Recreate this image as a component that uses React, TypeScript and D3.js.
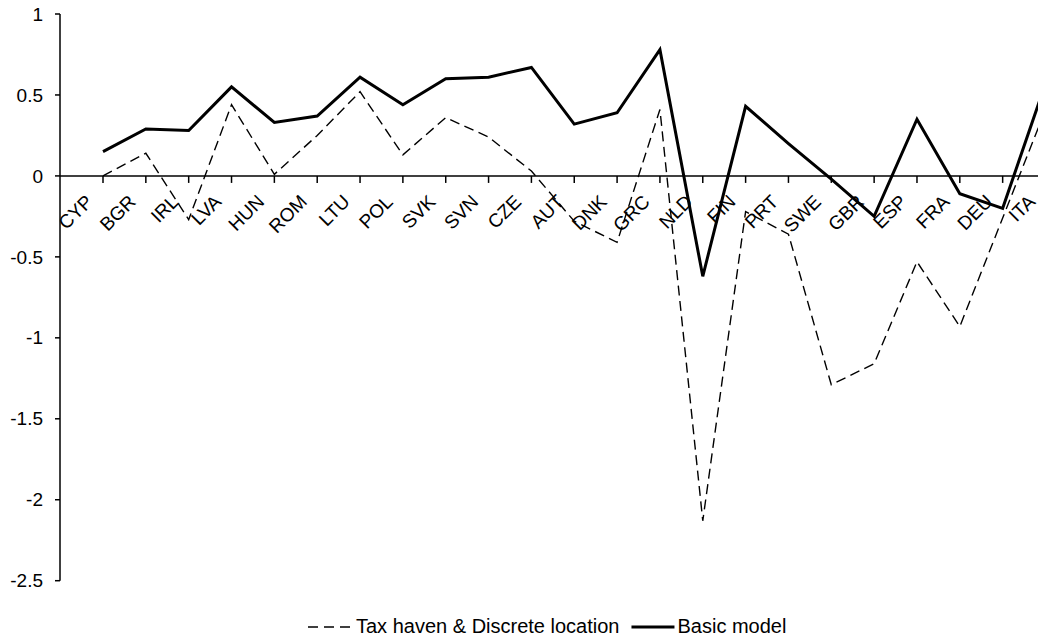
import React, { useEffect, useRef } from 'react';
import * as d3 from 'd3';

const categories = [
  'CYP', 'BGR', 'IRL', 'LVA', 'HUN', 'ROM', 'LTU', 'POL', 'SVK', 'SVN', 'CZE', 'AUT',
  'DNK', 'GRC', 'NLD', 'FIN', 'PRT', 'SWE', 'GBR', 'ESP', 'FRA', 'DEU', 'ITA',
];

// "Tax haven & Discrete location" (dashed)
const taxHaven = [
  0.0, 0.14, -0.27, 0.44, 0.01, 0.25, 0.52, 0.13, 0.36, 0.24, 0.03, -0.28,
  -0.41, 0.41, -2.13, -0.22, -0.36, -1.29, -1.16, -0.53, -0.93, -0.26, 0.41,
];

// "Basic model" (solid)
const basicModel = [
  0.15, 0.29, 0.28, 0.55, 0.33, 0.37, 0.61, 0.44, 0.6, 0.61, 0.67, 0.32,
  0.39, 0.78, -0.62, 0.43, 0.2, -0.02, -0.25, 0.35, -0.11, -0.2, 0.57,
];

const yTicks = [-2.5, -2, -1.5, -1, -0.5, 0, 0.5, 1];

const legendLabels = ['Tax haven & Discrete location', 'Basic model'];

const W = 1038;
const H = 639;
const FONT = 'Arial, "Liberation Sans", sans-serif';

const Chart: React.FC = () => {
  const svgRef = useRef<SVGSVGElement>(null);

  useEffect(() => {
    if (!svgRef.current) return;
    const svg = d3.select(svgRef.current);
    svg.selectAll('*').remove();

    const axisX = 60;
    const x = d3.scalePoint<string>().domain(categories).range([103, 1045.5]);
    const y = d3.scaleLinear().domain([-2.5, 1]).range([580.7, 14]);
    const y0 = y(0);

    // y axis
    svg.append('line')
      .attr('x1', axisX).attr('x2', axisX)
      .attr('y1', y(1)).attr('y2', y(-2.5))
      .attr('stroke', '#000').attr('stroke-width', 1.5);

    const yt = svg.append('g');
    yt.selectAll('line')
      .data(yTicks)
      .enter()
      .append('line')
      .attr('x1', axisX - 5).attr('x2', axisX)
      .attr('y1', d => y(d)).attr('y2', d => y(d))
      .attr('stroke', '#000').attr('stroke-width', 1.5);
    yt.selectAll('text')
      .data(yTicks)
      .enter()
      .append('text')
      .attr('x', 43)
      .attr('y', d => y(d))
      .attr('dy', '0.35em')
      .attr('text-anchor', 'end')
      .style('font-family', FONT)
      .style('font-size', '19px')
      .attr('fill', '#000')
      .text(d => String(d));

    // x axis at zero
    svg.append('line')
      .attr('x1', axisX).attr('x2', W + 10)
      .attr('y1', y0).attr('y2', y0)
      .attr('stroke', '#000').attr('stroke-width', 1.5);

    const xt = svg.append('g');
    xt.selectAll('line')
      .data(categories)
      .enter()
      .append('line')
      .attr('x1', d => x(d)!).attr('x2', d => x(d)!)
      .attr('y1', y0).attr('y2', y0 + 7)
      .attr('stroke', '#000').attr('stroke-width', 1.5);
    xt.selectAll('text')
      .data(categories)
      .enter()
      .append('text')
      .attr('transform', d => `translate(${x(d)! - 9},${y0 + 27}) rotate(-45)`)
      .attr('text-anchor', 'end')
      .style('font-family', FONT)
      .style('font-size', '19px')
      .attr('fill', '#000')
      .text(d => d);

    // series
    const line = d3.line<number>()
      .x((_, i) => x(categories[i])!)
      .y(d => y(d));

    svg.append('path')
      .datum(taxHaven)
      .attr('d', line)
      .attr('fill', 'none')
      .attr('stroke', '#000')
      .attr('stroke-width', 1.4)
      .attr('stroke-dasharray', '10,5.5');

    svg.append('path')
      .datum(basicModel)
      .attr('d', line)
      .attr('fill', 'none')
      .attr('stroke', '#000')
      .attr('stroke-width', 3)
      .attr('stroke-linejoin', 'miter');

    // legend
    const lg = svg.append('g');
    const lineY = 627;
    const textY = 633;
    let cx = 308;
    lg.append('line')
      .attr('x1', cx).attr('x2', cx + 42)
      .attr('y1', lineY).attr('y2', lineY)
      .attr('stroke', '#000').attr('stroke-width', 1.6)
      .attr('stroke-dasharray', '10,6');
    const t1 = lg.append('text')
      .attr('x', cx + 48).attr('y', textY)
      .style('font-family', FONT)
      .style('font-size', '20px')
      .text(legendLabels[0]);
    const w1 = (t1.node() as SVGTextElement).getComputedTextLength();
    cx = cx + 48 + w1 + 12;
    lg.append('line')
      .attr('x1', cx).attr('x2', cx + 43)
      .attr('y1', lineY).attr('y2', lineY)
      .attr('stroke', '#000').attr('stroke-width', 3);
    lg.append('text')
      .attr('x', cx + 46).attr('y', textY)
      .style('font-family', FONT)
      .style('font-size', '20px')
      .text(legendLabels[1]);
  }, []);

  return (
    <svg
      ref={svgRef}
      width={W}
      height={H}
      style={{ position: 'absolute', left: 0, top: 0, background: '#fff' }}
    />
  );
};

export default function App() {
  return <Chart />;
}
